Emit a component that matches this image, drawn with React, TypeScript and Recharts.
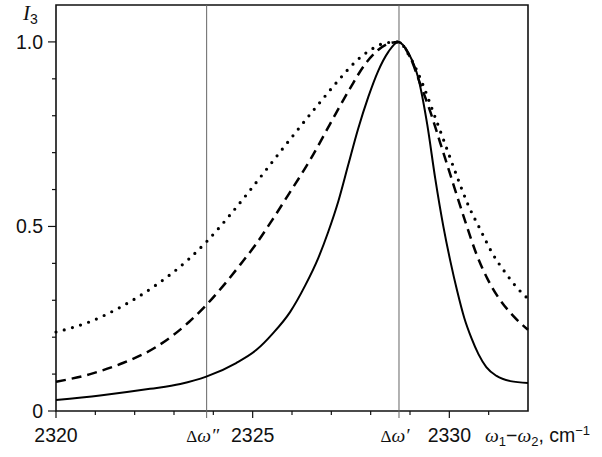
import React from "react";
import { LineChart, Line, XAxis, YAxis, ReferenceLine, ReferenceArea } from "recharts";

const deltaOmegaDouble = 2323.83;
const deltaOmegaSingle = 2328.72;

const solidX = [2320, 2321.12, 2322.39, 2323.16, 2323.82, 2324.58, 2325.09, 2325.52, 2325.95, 2326.34, 2326.67, 2326.92, 2327.18, 2327.43, 2327.68, 2327.94, 2328.19, 2328.45, 2328.7, 2328.96, 2329.21, 2329.44, 2329.64, 2329.85, 2330.03, 2330.2, 2330.38, 2330.56, 2330.74, 2330.94, 2331.2, 2331.55, 2332];
const solidY = [0.03, 0.042, 0.06, 0.073, 0.093, 0.13, 0.165, 0.211, 0.268, 0.341, 0.415, 0.485, 0.569, 0.667, 0.764, 0.851, 0.921, 0.973, 1.0, 0.97, 0.902, 0.775, 0.631, 0.499, 0.404, 0.325, 0.252, 0.198, 0.154, 0.119, 0.095, 0.081, 0.076];

const dashedX = [2320, 2320.87, 2321.7, 2322.54, 2323.38, 2323.82, 2324.25, 2324.68, 2325.09, 2325.5, 2325.95, 2326.46, 2326.97, 2327.48, 2327.86, 2328.19, 2328.5, 2328.7, 2329.01, 2329.26, 2329.52, 2329.77, 2330.1, 2330.41, 2330.69, 2330.97, 2331.22, 2331.63, 2332];
const dashedY = [0.079, 0.1, 0.13, 0.173, 0.241, 0.287, 0.339, 0.396, 0.453, 0.518, 0.593, 0.68, 0.778, 0.875, 0.94, 0.978, 0.997, 1.0, 0.957, 0.886, 0.81, 0.726, 0.615, 0.512, 0.425, 0.358, 0.312, 0.257, 0.22];

const dottedX = [2320, 2320.84, 2321.7, 2322.54, 2323.38, 2323.82, 2324.4, 2324.94, 2325.78, 2326.64, 2327.23, 2327.61, 2327.99, 2328.37, 2328.7, 2329.01, 2329.34, 2329.59, 2329.9, 2330.2, 2330.48, 2330.79, 2331.09, 2331.43, 2331.73, 2332];
const dottedY = [0.214, 0.241, 0.285, 0.341, 0.412, 0.458, 0.528, 0.599, 0.713, 0.827, 0.902, 0.946, 0.978, 0.997, 1.0, 0.957, 0.881, 0.81, 0.721, 0.634, 0.558, 0.491, 0.428, 0.374, 0.333, 0.304];

const xTicks = [2320, 2321, 2322, 2323, 2324, 2325, 2326, 2327, 2328, 2329, 2330, 2331, deltaOmegaDouble, deltaOmegaSingle];
const xLabelled = [2320, 2325, 2330];
const yTicks = [0, 0.1, 0.2, 0.3, 0.4, 0.5, 0.6, 0.7, 0.8, 0.9, 1.0];
const yLabels: Record<string, string> = { "0": "0", "0.5": "0.5", "1": "1.0" };

const toPoints = (xs: number[], ys: number[]) => xs.map((x, i) => ({ x, y: ys[i] }));
const solidData = toPoints(solidX, solidY);
const dashedData = toPoints(dashedX, dashedY);
const dottedData = toPoints(dottedX, dottedY);

const SANS = "'Liberation Sans', Arial, Helvetica, sans-serif";
const SERIF = "'Liberation Serif', 'Times New Roman', serif";
const FS = 19.5;

const XTick = (props: any) => {
  const { x, y, payload } = props;
  const v = payload.value;
  if (v === deltaOmegaDouble || v === deltaOmegaSingle) {
    const prime = v === deltaOmegaDouble ? "\u2033" : "\u2032";
    return (
      <g>
        <line x1={x} x2={x} y1={y} y2={y + 7} stroke="#666" strokeWidth={1} />
        <text x={x - 4} y={y + 31} textAnchor="middle" fill="#111" fontFamily={SERIF} fontSize={FS}>
          <tspan fontSize={17}>{"\u0394"}</tspan>
          <tspan fontStyle="italic">{"\u03c9" + prime}</tspan>
        </text>
      </g>
    );
  }
  const major = xLabelled.includes(v);
  return (
    <g>
      <line x1={x} x2={x} y1={y} y2={y + (major ? 7 : 4)} stroke="#111" strokeWidth={1.2} />
      {major && (
        <text x={x} y={y + 31} textAnchor="middle" fill="#111" fontFamily={SANS} fontSize={FS}>
          {String(v)}
        </text>
      )}
    </g>
  );
};

const YTick = (props: any) => {
  const { x, y, payload } = props;
  const key = String(Math.round(payload.value * 10) / 10);
  const label = yLabels[key];
  const major = label !== undefined;
  return (
    <g>
      <line x1={x - (major ? 8 : 4)} x2={x} y1={y} y2={y} stroke="#111" strokeWidth={1.2} />
      {major && (
        <text x={x - 13} y={y} dy="0.36em" textAnchor="end" fill="#111" fontFamily={SANS} fontSize={FS}>
          {label}
        </text>
      )}
    </g>
  );
};

const XTitle = (props: any) => {
  const vb = props.viewBox || { x: 56, y: 411, width: 472 };
  const x0 = vb.x + vb.width - 43;
  const y0 = vb.y + 31;
  return (
    <text x={x0} y={y0} fill="#111" fontFamily={SANS} fontSize={FS}>
      <tspan fontFamily={SERIF} fontStyle="italic">{"\u03c9"}</tspan>
      <tspan fontSize={13} dy={4}>1</tspan>
      <tspan dy={-4}>{"\u2212"}</tspan>
      <tspan fontFamily={SERIF} fontStyle="italic">{"\u03c9"}</tspan>
      <tspan fontSize={13} dy={4}>2</tspan>
      <tspan dy={-4}>, cm</tspan>
      <tspan fontSize={13} dy={-7}>{"\u22121"}</tspan>
    </text>
  );
};

const YTitle = (props: any) => {
  const vb = props.viewBox || { x: 0, y: 5 };
  return (
    <text x={vb.x + 23} y={vb.y + 15} fill="#111" fontFamily={SERIF} fontSize={21}>
      <tspan fontStyle="italic">I</tspan>
      <tspan fontFamily={SANS} fontSize={14} dy={4}>3</tspan>
    </text>
  );
};

export default function App() {
  return (
    <div style={{ position: "absolute", left: 0, top: 0, background: "#fff" }}>
      <LineChart width={602} height={457} margin={{ top: 5, right: 74, bottom: 16, left: 0 }}>
        <XAxis
          dataKey="x"
          type="number"
          domain={[2320, 2332]}
          ticks={xTicks}
          interval={0}
          allowDuplicatedCategory={false}
          axisLine={false}
          tickLine={false}
          tickSize={0}
          tickMargin={0}
          tick={<XTick />}
          height={30}
          label={<XTitle />}
        />
        <YAxis
          type="number"
          domain={[0, 1.1]}
          ticks={yTicks}
          interval={0}
          axisLine={false}
          tickLine={false}
          tickSize={0}
          tickMargin={0}
          tick={<YTick />}
          width={56}
          label={<YTitle />}
        />
        <ReferenceLine x={deltaOmegaDouble} stroke="#666" strokeWidth={1} />
        <ReferenceLine x={deltaOmegaSingle} stroke="#666" strokeWidth={1} />
        <ReferenceArea x1={2320} x2={2332} y1={0} y2={1.1} fill="none" stroke="#111" strokeWidth={1.6} fillOpacity={0} />
        <Line data={dottedData} dataKey="y" type="monotone" stroke="#000" strokeWidth={3.2} strokeDasharray="0 8.5" strokeLinecap="round" dot={false} isAnimationActive={false} />
        <Line data={dashedData} dataKey="y" type="monotone" stroke="#000" strokeWidth={2.5} strokeDasharray="10 6" dot={false} isAnimationActive={false} />
        <Line data={solidData} dataKey="y" type="monotone" stroke="#000" strokeWidth={2} dot={false} isAnimationActive={false} />
      </LineChart>
    </div>
  );
}
